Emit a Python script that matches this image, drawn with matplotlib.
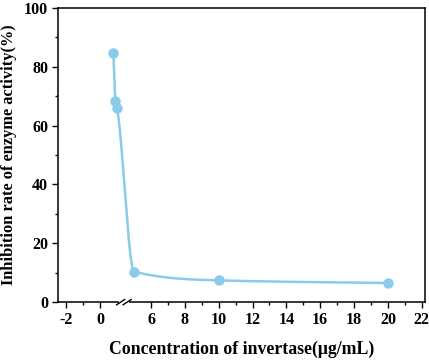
import numpy as np
import matplotlib
matplotlib.use("Agg")
import matplotlib.pyplot as plt

# data
conc = [0.78, 0.9, 1.0, 5, 10, 20]
inhibition = [84.8, 68.5, 65.9, 10.4, 7.4, 6.5]
xticks_major = [-2, 0, 6, 8, 10, 12, 14, 16, 18, 20, 22]
xticks_minor = [-1, 7, 9, 11, 13, 15, 17, 19, 21]

# axis break between b0 and b1
b0, b1 = 1.4, 4.4
eps = 0.001
gap = (b1 - b0) * (1 - eps)


def fwd(x):
    x = np.asarray(x, dtype=float)
    return np.where(x <= b0, x, np.where(x >= b1, x - gap, b0 + (x - b0) * eps))


def inv(u):
    u = np.asarray(u, dtype=float)
    ub1 = b0 + (b1 - b0) * eps
    return np.where(u <= b0, u, np.where(u >= ub1, u + gap, b0 + (u - b0) / eps))


def pchip(x, y, n=80):
    # monotone cubic (Fritsch-Carlson) through the points
    x = np.asarray(x, float)
    y = np.asarray(y, float)
    h = np.diff(x)
    d = np.diff(y) / h
    m = np.zeros_like(y)
    for k in range(1, len(x) - 1):
        if d[k - 1] * d[k] > 0:
            w1 = 2 * h[k] + h[k - 1]
            w2 = h[k] + 2 * h[k - 1]
            m[k] = (w1 + w2) / (w1 / d[k - 1] + w2 / d[k])
    m[0] = d[0]
    m[-1] = d[-1]
    xs, ys = [], []
    for k in range(len(x) - 1):
        t = np.linspace(0, 1, n)
        h00 = 2 * t**3 - 3 * t**2 + 1
        h10 = t**3 - 2 * t**2 + t
        h01 = -2 * t**3 + 3 * t**2
        h11 = t**3 - t**2
        xs.append(x[k] + t * h[k])
        ys.append(h00 * y[k] + h10 * h[k] * m[k] + h01 * y[k + 1] + h11 * h[k] * m[k + 1])
    return np.concatenate(xs), np.concatenate(ys)


plt.rcParams['font.family'] = ['Liberation Serif', 'DejaVu Serif']
plt.rcParams['font.weight'] = 'bold'
plt.rcParams['axes.unicode_minus'] = False

fig = plt.figure(figsize=(4.29, 3.64), dpi=100)
ax = fig.add_axes([0.135, 0.170, 0.856, 0.808])
ax.set_xscale('function', functions=(fwd, inv))

color = '#8acbea'
# smooth connecting curve, built along the broken (displayed) x position
sx, sy = pchip(fwd(conc), inhibition)
ax.plot(inv(sx), sy, color=color, lw=1.8, zorder=2)
ax.plot(conc, inhibition, 'o', color=color, ms=6.5, zorder=3)

ax.set_xlim(-2.5, 22.2)
ax.set_ylim(0, 100)
ax.set_xticks(xticks_major)
ax.set_xticks(xticks_minor, minor=True)
ax.set_yticks(range(0, 101, 20))
ax.set_yticks(range(10, 100, 20), minor=True)
ax.tick_params(which='both', direction='out', top=False, right=False, width=1)
ax.tick_params(which='major', length=4, labelsize=11.5, pad=3)
ax.tick_params(which='minor', length=2.5)
for lab in ax.get_xticklabels() + ax.get_yticklabels():
    lab.set_fontweight('bold')
for sp in ax.spines.values():
    sp.set_linewidth(1.1)

ax.set_xlabel('Concentration of invertase(μg/mL)', fontsize=12.8, fontweight='bold', labelpad=9)
ax.set_ylabel('Inhibition rate of enzyme activity(%)', fontsize=11.8, fontweight='bold', labelpad=5)

# break marks on the bottom axis
lo, hi = fwd(-2.5), fwd(22.2)
xc = (fwd(b0) - lo) / (hi - lo)
w = 6.5 / 366.0
tr = ax.transAxes
ax.plot([xc - w / 2, xc + w / 2], [0, 0], color='white', lw=3, transform=tr, clip_on=False, zorder=5)
for dx in (-w / 2, w / 2):
    ax.plot([xc + dx - 0.011, xc + dx + 0.011], [-0.009, 0.009], color='black', lw=1,
            transform=tr, clip_on=False, zorder=6)

fig.savefig('out.png', dpi=100)
